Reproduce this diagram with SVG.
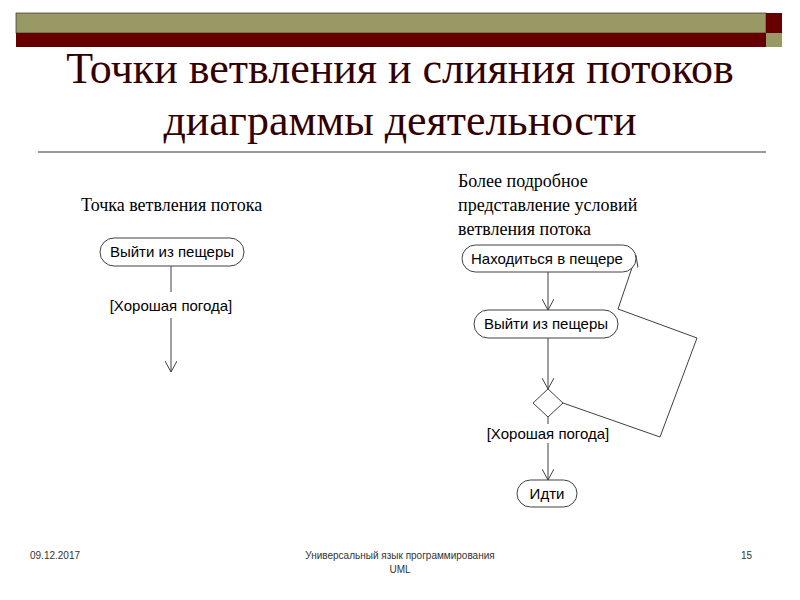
<svg xmlns="http://www.w3.org/2000/svg" width="800" height="600" viewBox="0 0 800 600">
<style>
.n{fill:#fff;stroke:#404040;stroke-width:1}
.t{font-family:"Liberation Sans",Arial,sans-serif;font-size:15px;fill:#000;text-anchor:middle}
.s{font-family:"Liberation Serif","DejaVu Serif",serif;font-size:18px;fill:#000}
.h{font-family:"Liberation Serif","DejaVu Serif",serif;font-size:44px;fill:#330000;text-anchor:middle}
.c{fill:none;stroke:#404040;stroke-width:1}
</style>
<defs><marker id="a" viewBox="0 0 12 12" refX="11" refY="6" markerWidth="12" markerHeight="12" markerUnits="userSpaceOnUse" orient="auto"><path d="M0,0 L11,6 L0,12" fill="none" stroke="#404040"/></marker></defs>
<rect x="0" y="0" width="800" height="600" fill="#fff"/>
<rect x="16" y="13" width="750" height="20" fill="#999966" stroke="#333" stroke-width="0.7"/>
<rect x="16" y="33" width="750" height="14" fill="#660000"/>
<rect x="766" y="13" width="16" height="20" fill="#660000"/>
<rect x="766" y="33" width="16" height="14" fill="#999966"/>
<text class="h" x="400" y="83">Точки ветвления и слияния потоков</text>
<text class="h" x="400" y="135">диаграммы деятельности</text>
<line x1="38" y1="152" x2="766" y2="152" stroke="#333" stroke-width="1"/>
<text class="s" x="81" y="211">Точка ветвления потока</text>
<text class="s" x="458" y="187">Более подробное</text>
<text class="s" x="458" y="211">представление условий</text>
<text class="s" x="458" y="235">ветвления потока</text>
<g id="connectors">
<line class="c" x1="171" y1="266" x2="171" y2="292"/>
<line class="c" x1="171" y1="318" x2="171" y2="372" marker-end="url(#a)"/>
<line class="c" x1="548" y1="272" x2="548" y2="310" marker-end="url(#a)"/>
<line class="c" x1="548" y1="338" x2="548" y2="389" marker-end="url(#a)"/>
<polyline class="c" points="563,403 660,437 697,338 618,309 636,256" marker-end="url(#a)"/>
<line class="c" x1="548" y1="417" x2="548" y2="424"/>
<line class="c" x1="548" y1="443" x2="548" y2="480" marker-end="url(#a)"/>
<text class="t" x="171" y="311">[Хорошая погода]</text>
<text class="t" x="548" y="439">[Хорошая погода]</text>
</g>
<g id="left-exit"><rect class="n" x="100" y="238" width="144" height="28" rx="14"/><text class="t" x="172" y="257">Выйти из пещеры</text></g>
<g id="stay"><rect class="n" x="462" y="245" width="174" height="27" rx="13.5"/><text class="t" x="547" y="264">Находиться в пещере</text></g>
<g id="exit"><rect class="n" x="474" y="310" width="144" height="28" rx="14"/><text class="t" x="546" y="329">Выйти из пещеры</text></g>
<g id="decision"><polygon class="n" points="548,389 563,403 548,417 533,403"/></g>
<g id="go"><rect class="n" x="517" y="480" width="60" height="27" rx="13.5"/><text class="t" x="547" y="499">Идти</text></g>
<text x="30" y="559" font-family="Liberation Sans,Arial,sans-serif" font-size="10" fill="#333">09.12.2017</text>
<text x="400" y="559" font-family="Liberation Sans,Arial,sans-serif" font-size="10" fill="#333" text-anchor="middle">Универсальный  язык  программирования</text>
<text x="400" y="573" font-family="Liberation Sans,Arial,sans-serif" font-size="10" fill="#333" text-anchor="middle">UML</text>
<text x="752" y="559" font-family="Liberation Sans,Arial,sans-serif" font-size="10" fill="#333" text-anchor="end">15</text>
</svg>
